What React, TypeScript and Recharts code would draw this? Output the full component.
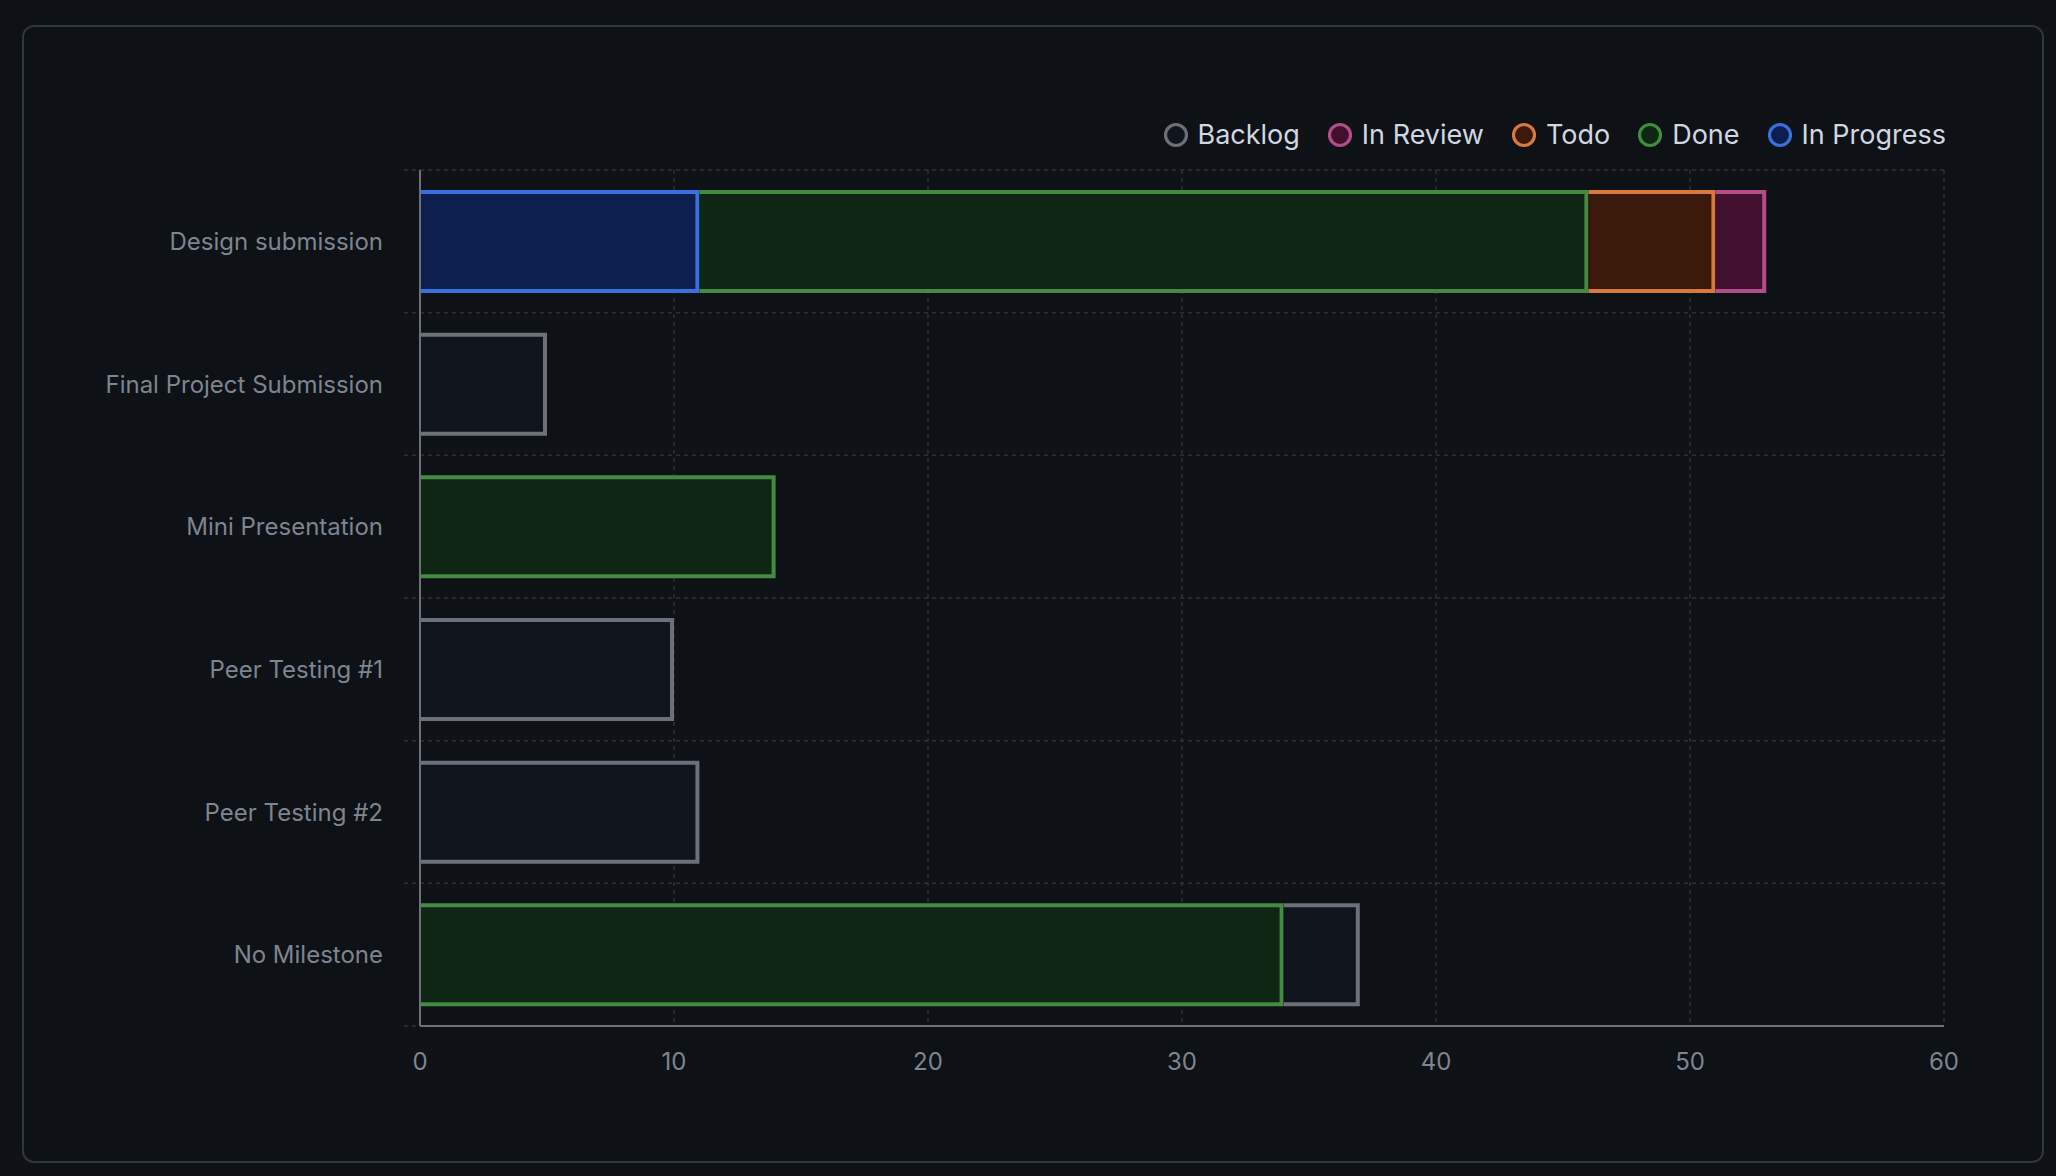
import React from 'react';
import { BarChart, Bar, XAxis, YAxis, CartesianGrid, Legend } from 'recharts';

const categories = [
  'Design submission',
  'Final Project Submission',
  'Mini Presentation',
  'Peer Testing #1',
  'Peer Testing #2',
  'No Milestone',
];
const inProgress = [11, 0, 0, 0, 0, 0];
const done = [35, 0, 14, 0, 0, 34];
const todo = [5, 0, 0, 0, 0, 0];
const inReview = [2, 0, 0, 0, 0, 0];
const backlog = [0, 5, 0, 10, 11, 3];
const xTicks = [0, 10, 20, 30, 40, 50, 60];

// stack order (left to right)
const series = [
  { key: 'inProgress', name: 'In Progress', values: inProgress, stroke: '#3871de', fill: '#0c1e4e' },
  { key: 'done', name: 'Done', values: done, stroke: '#438b40', fill: '#0f2615' },
  { key: 'todo', name: 'Todo', values: todo, stroke: '#d7783c', fill: '#3a180a' },
  { key: 'inReview', name: 'In Review', values: inReview, stroke: '#b24e87', fill: '#40102e' },
  { key: 'backlog', name: 'Backlog', values: backlog, stroke: '#6b7079', fill: '#10141d' },
];

const data = categories.map((name, i) => {
  const row: Record<string, any> = { name };
  series.forEach((s) => {
    row[s.key] = s.values[i];
  });
  return row;
});

const FONT = 'Inter, "Noto Sans", sans-serif';
const SW = 4;

const SegmentShape = (props: any) => {
  const { x, y, width, height, fill, stroke } = props;
  if (!width || width <= 0 || !height) return <g />;
  const h = SW / 2;
  const d = `M ${x} ${y + h} H ${x + width - h} V ${y + height - h} H ${x}`;
  return (
    <g>
      <rect x={x} y={y} width={width} height={height} fill={fill} />
      <path d={d} fill="none" stroke={stroke} strokeWidth={SW} strokeLinejoin="miter" />
    </g>
  );
};

const LegendContent = () => {
  const items = [...series].reverse();
  return (
    <div style={{ display: 'flex', alignItems: 'center', height: 40, fontFamily: FONT }}>
      {items.map((s, i) => (
        <div key={s.key} style={{ display: 'flex', alignItems: 'center', marginLeft: i === 0 ? 0 : 27 }}>
          <svg width={26} height={26} style={{ display: 'block' }}>
            <circle cx={13} cy={13} r={10.5} fill={s.fill} stroke={s.stroke} strokeWidth={3.2} />
          </svg>
          <span style={{ marginLeft: 9, fontSize: 27, color: '#d1d7e0', lineHeight: '40px' }}>{s.name}</span>
        </div>
      ))}
    </div>
  );
};

const HLine = (p: any) => (
  <line
    key={p.key ?? `h-${p.y1}`}
    x1={p.x1 - 16}
    y1={p.y1}
    x2={p.x2}
    y2={p.y2}
    stroke="#2c3139"
    strokeWidth={1.5}
    strokeDasharray="4 4"
  />
);

export default function App() {
  const n = categories.length;
  return (
    <div style={{ position: 'fixed', left: 0, top: 0, width: 2056, height: 1176, background: '#0e1116', fontFamily: FONT }}>
      <div
        style={{
          position: 'absolute',
          left: 22,
          top: 25,
          width: 2022,
          height: 1138,
          border: '2px solid #30363d',
          borderRadius: 12,
          boxSizing: 'border-box',
        }}
      />
      <div style={{ position: 'absolute', left: 0, top: 0 }}>
        <BarChart
          width={2056}
          height={1176}
          data={data}
          layout="vertical"
          margin={{ top: 170, right: 112, bottom: 90, left: 0 }}
          barCategoryGap="14%"
          style={{ fontFamily: FONT }}
        >
          <CartesianGrid
            stroke="#2c3139"
            strokeWidth={1.5}
            strokeDasharray="4 4"
            horizontal={HLine}
            horizontalCoordinatesGenerator={({ offset }: any) =>
              Array.from({ length: n + 1 }, (_, i) => offset.top + (i * offset.height) / n)
            }
          />
          <XAxis
            type="number"
            domain={[0, 60]}
            ticks={xTicks}
            interval={0}
            height={60}
            tickLine={false}
            tickSize={0}
            tickMargin={27}
            axisLine={{ stroke: '#6b7079', strokeWidth: 2 }}
            tick={{ fill: '#7d8590', fontSize: 24, fontFamily: FONT }}
          />
          <YAxis
            type="category"
            dataKey="name"
            width={420}
            tickLine={false}
            tickSize={0}
            tickMargin={37}
            interval={0}
            axisLine={{ stroke: '#6b7079', strokeWidth: 2 }}
            tick={{ fill: '#7d8590', fontSize: 24, fontFamily: FONT }}
          />
          <Legend
            layout="horizontal"
            verticalAlign="middle"
            align="center"
            content={<LegendContent />}
            wrapperStyle={{ top: 115, right: 110, left: 'auto', width: 'auto', height: 40 }}
          />
          {series.map((s) => (
            <Bar
              key={s.key}
              dataKey={s.key}
              name={s.name}
              stackId="a"
              fill={s.fill}
              stroke={s.stroke}
              shape={<SegmentShape />}
              isAnimationActive={false}
            />
          ))}
        </BarChart>
      </div>
    </div>
  );
}
